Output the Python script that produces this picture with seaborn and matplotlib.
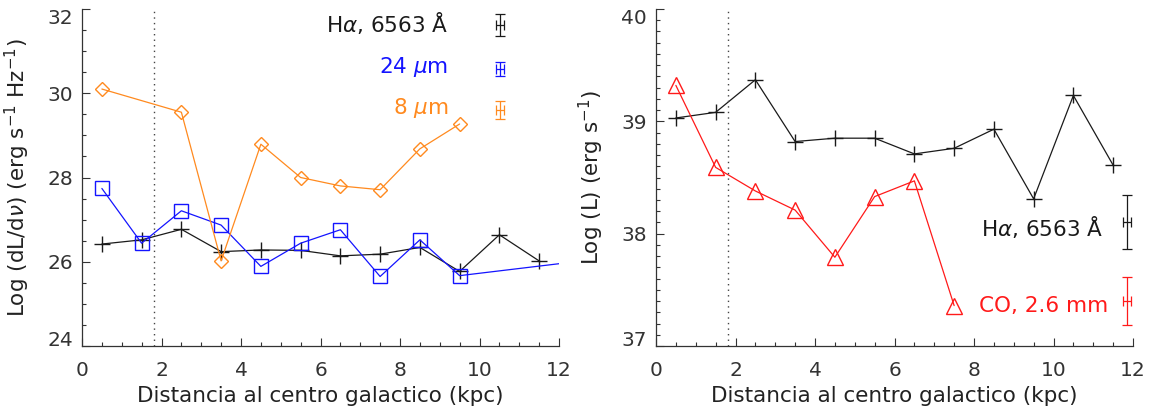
import matplotlib
matplotlib.use("Agg")
import matplotlib.pyplot as plt
import seaborn as sns
import pandas as pd
from matplotlib.ticker import MultipleLocator

# Radial profiles, galactocentric distance in kpc
r_halpha = [0.5, 1.5, 2.5, 3.5, 4.5, 5.5, 6.5, 7.5, 8.5, 9.5, 10.5, 11.5]
lnu_halpha = [26.42, 26.52, 26.77, 26.24, 26.28, 26.27, 26.14, 26.18, 26.34, 25.77, 26.64, 26.02]

r_24um = [0.5, 1.5, 2.5, 3.5, 4.5, 5.5, 6.5, 7.5, 8.5, 9.5, 12.5]
lnu_24um = [27.74, 26.44, 27.21, 26.87, 25.89, 26.44, 26.76, 25.65, 26.52, 25.67, 26.01]

r_8um = [0.5, 2.5, 3.5, 4.5, 5.5, 6.5, 7.5, 8.5, 9.5]
lnu_8um = [30.10, 29.55, 26.02, 28.79, 28.00, 27.80, 27.71, 28.68, 29.27]

l_halpha = [39.03, 39.08, 39.37, 38.82, 38.85, 38.85, 38.71, 38.76, 38.93, 38.31, 39.23, 38.61]

r_co = [0.5, 1.5, 2.5, 3.5, 4.5, 5.5, 6.5, 7.5]
l_co = [39.32, 38.59, 38.38, 38.21, 37.79, 38.33, 38.47, 37.36]

# Typical uncertainties shown as keys next to each label
key_labels_left = [r"H$\alpha$, 6563 Å", r"24 $\mu$m", r"8 $\mu$m"]
key_y_left = [31.62, 30.58, 29.60]
key_yerr_left = [0.25, 0.17, 0.21]
key_labels_right = [r"H$\alpha$, 6563 Å", "CO, 2.6 mm"]
key_y_right = [38.10, 37.40]
key_yerr_right = [0.24, 0.21]

r_bar = 1.8  # bar radius (kpc)

BLACK = "#1a1a1a"
BLUE = "#1414ff"
ORANGE = "#ff8a1f"
RED = "#ff1a1a"

TXT = 15.5
TICK = 14.5

sns.set_theme(style="ticks")
plt.rcParams["font.family"] = ["DejaVu Sans"]
plt.rcParams["mathtext.fontset"] = "dejavusans"
plt.rcParams["font.size"] = TXT
plt.rcParams["text.color"] = "#222222"
plt.rcParams["axes.labelcolor"] = "#222222"
plt.rcParams["xtick.color"] = "#333333"
plt.rcParams["ytick.color"] = "#333333"

fig = plt.figure(figsize=(11.52, 4.15), dpi=100)
ax1 = fig.add_axes([82 / 1152, 69 / 415, 477 / 1152, 337 / 415])
ax2 = fig.add_axes([656 / 1152, 69 / 415, 477 / 1152, 337 / 415])


def series(ax, x, y, color, marker, ms):
    df = pd.DataFrame({"r": x, "v": y})
    sns.lineplot(data=df, x="r", y="v", ax=ax, color=color, lw=0.9,
                 marker=marker, markersize=ms, markerfacecolor="none",
                 markeredgecolor=color, markeredgewidth=1.0, sort=False)


def style_axes(ax, ymin, ymax, ymajor, yminor, ylabel):
    ax.set_xlim(0, 12)
    ax.set_ylim(ymin, ymax)
    ax.xaxis.set_major_locator(MultipleLocator(2))
    ax.xaxis.set_minor_locator(MultipleLocator(0.5))
    ax.yaxis.set_major_locator(MultipleLocator(ymajor))
    ax.yaxis.set_minor_locator(MultipleLocator(yminor))
    ax.tick_params(which="both", direction="in", top=False, right=False, width=0.8)
    ax.tick_params(which="major", length=6)
    ax.tick_params(which="minor", length=3.2)
    ax.tick_params(axis="y", which="major", pad=6.5, labelsize=TICK)
    ax.tick_params(axis="x", which="major", pad=11, labelsize=TICK)
    for side in ("top", "right"):
        ax.spines[side].set_visible(False)
    for side in ("left", "bottom"):
        ax.spines[side].set_linewidth(0.9)
        ax.spines[side].set_color("#333333")
    ax.set_xlabel("Distancia al centro galactico (kpc)", fontsize=TXT)
    ax.set_ylabel(ylabel, fontsize=TXT)
    ax.xaxis.set_label_coords(0.5, -0.118)
    ax.yaxis.set_label_coords(-0.105, 0.5)
    ax.axvline(r_bar, color="#444444", lw=1.0, ls=(0, (1, 3)))


def pin_end_labels(ax):
    # keep the end labels inside the axis extent
    ticks = ax.yaxis.get_major_ticks()
    ticks[0].label1.set_verticalalignment("baseline")
    ticks[-1].label1.set_verticalalignment("top")


# Left panel: luminosity densities
series(ax1, r_halpha, lnu_halpha, BLACK, "+", 11)
series(ax1, r_24um, lnu_24um, BLUE, "s", 10)
series(ax1, r_8um, lnu_8um, ORANGE, "D", 7.5)
style_axes(ax1, 24, 32, 2, 0.5,
           r"Log (dL/d$\nu$) (erg s$^{-1}$ Hz$^{-1}$)")
ax1.set_yticks([24, 26, 28, 30, 32])
ax1.set_ylim(24, 32)
pin_end_labels(ax1)

for lab, y, ye, c in zip(key_labels_left, key_y_left, key_yerr_left, [BLACK, BLUE, ORANGE]):
    ax1.text(9.21, y + 0.05, lab, color=c, ha="right", va="center", fontsize=TXT)
    ax1.errorbar(10.52, y, xerr=0.1, yerr=ye, color=c, lw=0.9,
                 capsize=3.3, capthick=0.9)

# Right panel: integrated luminosities
series(ax2, r_halpha, l_halpha, BLACK, "+", 11)
series(ax2, r_co, l_co, RED, "^", 11.5)
style_axes(ax2, 37, 40, 1, 0.1, r"Log (L) (erg s$^{-1}$)")
ax2.set_yticks([37, 38, 39, 40])
ax2.set_ylim(37, 40)
pin_end_labels(ax2)

right_x = [11.24, 11.37]
for lab, xr, y, ye, c in zip(key_labels_right, right_x, key_y_right, key_yerr_right, [BLACK, RED]):
    ax2.text(xr, y - 0.04, lab, color=c, ha="right", va="center", fontsize=TXT)
    ax2.errorbar(11.85, y, xerr=0.1, yerr=ye, color=c, lw=0.9,
                 capsize=3.6, capthick=0.9)

fig.savefig("out.png", dpi=100)
